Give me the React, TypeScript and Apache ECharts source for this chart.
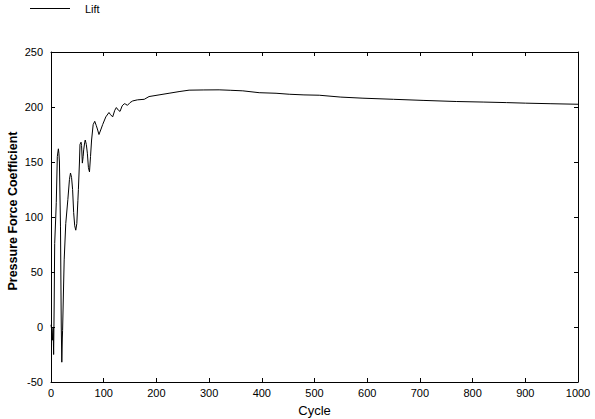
import { useEffect, useRef } from 'react';
import * as echarts from 'echarts';

// cycle number and lift (pressure force coefficient)
const cycles = [
    0, 2, 3, 4, 5, 6, 7, 9, 10, 12, 14, 15, 16, 17, 18, 19, 19.5, 20.5, 21.5, 22,
    24, 25, 28, 32, 35, 37, 39, 41, 43, 45, 47, 49, 51, 52, 54, 55, 57, 58, 59.5, 61,
    62, 64, 65, 67, 69, 71, 73, 75, 77, 80, 83, 86, 88, 91, 95, 98, 104, 110, 113, 117,
    121, 124, 128, 131, 135, 139, 142, 145, 150, 155, 164, 177, 186, 205, 224, 243, 262, 290, 319, 340,
    364, 395, 427, 452, 480, 509, 550, 592, 650, 706, 769, 820, 864, 900, 947, 1000,
];
const lift = [
    2, -5, -12, 0, -25, 20, 76, 100, 113, 155, 162, 158, 150, 120, 91, 30, 0, -32, -10, -3,
    40, 61, 94, 116, 134, 140, 136, 125, 104, 92, 88, 94, 115, 125, 150, 166, 168, 165, 149, 155,
    161, 168, 170, 166, 158, 145, 141, 155, 170, 184, 187, 183, 180, 175, 180, 184, 191, 195, 193, 191,
    197, 199.5, 197, 196, 201, 203, 202.5, 201.5, 204, 205.5, 206.5, 207, 209.5, 211, 212.5, 214, 215.3, 215.5, 215.6, 215.2,
    214.7, 213, 212.5, 211.6, 211, 210.7, 209, 208, 207, 206, 205, 204.5, 204, 203.5, 203, 202.5,
];

const xTicks = { min: 0, max: 1000, interval: 100 };
const yTicks = { min: -50, max: 250, interval: 50 };

const font = 'Liberation Sans, Arial, sans-serif';

export default function App() {
    const chartRef = useRef(null);

    useEffect(() => {
        const myChart = echarts.init(chartRef.current, null, { renderer: 'svg' });

        const axisLine = { show: true, onZero: false, lineStyle: { color: '#000', width: 1 } };
        const axisTick = { show: true, inside: true, length: 4, lineStyle: { color: '#000' } };
        const label = { color: '#000', fontSize: 11, fontFamily: font, formatter: (v: number) => String(v) };

        myChart.setOption({
            animation: false,
            backgroundColor: '#fff',
            grid: { left: 51, right: 17, top: 52, bottom: 37, containLabel: false, outerBoundsMode: 'none' },
            legend: {
                left: 25,
                top: -2,
                data: [{ name: 'Lift', icon: 'rect' }],
                itemWidth: 40,
                itemHeight: 1,
                itemStyle: { color: '#000' },
                textStyle: { color: '#000', fontSize: 11, fontFamily: font, padding: [0, 0, 0, 10] },
            },
            xAxis: [
                {
                    type: 'value',
                    ...xTicks,
                    name: 'Cycle',
                    nameLocation: 'middle',
                    nameGap: 22,
                    nameMoveOverlap: false,
                    nameTextStyle: { color: '#000', fontSize: 13, fontFamily: font },
                    axisLine,
                    axisTick,
                    axisLabel: { ...label, margin: 5 },
                    splitLine: { show: false },
                },
                {
                    type: 'value',
                    position: 'top',
                    ...xTicks,
                    axisLine,
                    axisTick,
                    axisLabel: { show: false },
                    splitLine: { show: false },
                },
            ],
            yAxis: [
                {
                    type: 'value',
                    ...yTicks,
                    name: 'Pressure Force Coefficient',
                    nameLocation: 'middle',
                    nameGap: 32,
                    nameMoveOverlap: false,
                    nameTextStyle: {
                        color: '#000',
                        fontSize: 12.5,
                        fontWeight: 'bold',
                        fontFamily: font,
                        padding: [0, 0, 0, 12],
                    },
                    axisLine,
                    axisTick,
                    axisLabel: { ...label, margin: 8 },
                    splitLine: { show: false },
                },
                {
                    type: 'value',
                    position: 'right',
                    ...yTicks,
                    axisLine,
                    axisTick,
                    axisLabel: { show: false },
                    splitLine: { show: false },
                },
            ],
            series: [
                {
                    name: 'Lift',
                    type: 'line',
                    symbol: 'none',
                    data: cycles.map((c, i) => [c, lift[i]]),
                    lineStyle: { color: '#000', width: 1 },
                    itemStyle: { color: '#000' },
                },
            ],
        });

        return () => {
            myChart.dispose();
        };
    }, []);

    return (
        <div
            ref={chartRef}
            style={{ position: 'absolute', left: 0, top: 0, width: '595px', height: '419px' }}
        />
    );
}
